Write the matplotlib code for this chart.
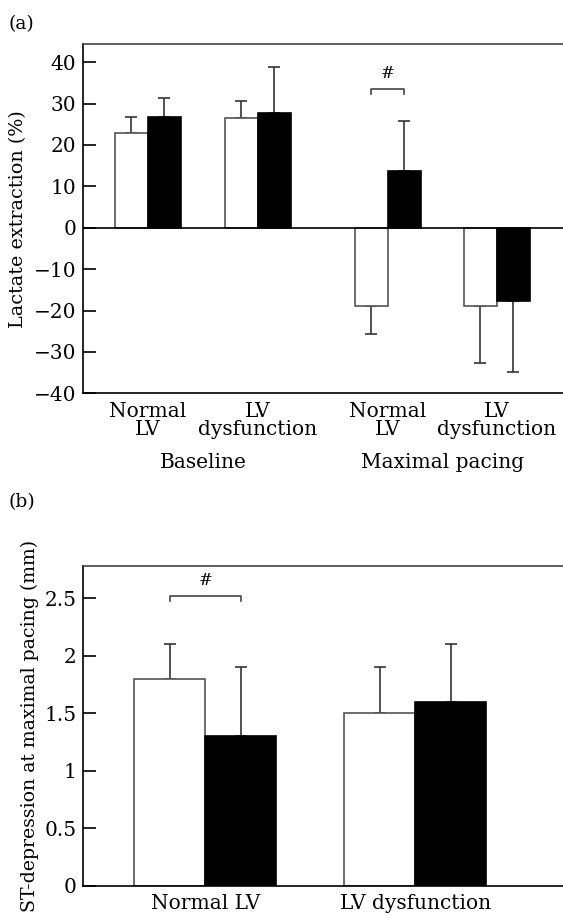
import numpy as np
import matplotlib
matplotlib.use("Agg")
from matplotlib import pyplot as plt
from matplotlib import transforms

plt.rcParams['font.family'] = ['DejaVu Serif']

# Panel (a): lactate extraction
labels_a = ["Normal\nLV", "LV\ndysfunction", "Normal\nLV", "LV\ndysfunction"]
phases_a = ["Baseline", "Maximal pacing"]
pos_a = [0, 1, 2.18, 3.17]
white_a = [22.8, 26.6, -18.8, -18.8]
white_err_a = [3.9, 4.1, 6.8, 13.8]
black_a = [26.7, 27.8, 13.8, -17.7]
black_err_a = [4.7, 11.1, 12.1, 17.1]
sig_a = 33.6  # height of the '#' bracket

# Panel (b): ST-depression at maximal pacing
labels_b = ["Normal LV", "LV dysfunction"]
pos_b = [0, 1]
white_b = [1.8, 1.5]
white_err_b = [0.3, 0.4]
black_b = [1.3, 1.6]
black_err_b = [0.6, 0.5]
sig_b = 2.52

W, H = 563, 918
fig = plt.figure(figsize=(W / 100, H / 100), dpi=100)

def px_axes(left, top, right, bottom):
    return fig.add_axes([left / W, 1 - bottom / H, (right - left) / W, (bottom - top) / H])

def one_sided(vals, errs):
    lo = [e if v < 0 else 0 for v, e in zip(vals, errs)]
    hi = [e if v >= 0 else 0 for v, e in zip(vals, errs)]
    return [lo, hi]

def draw_bars(ax, pos, white, werr, black, berr, width):
    xw = np.array(pos) - width / 2
    xb = np.array(pos) + width / 2
    ax.bar(xw, white, width, color="white", edgecolor="#555555", linewidth=1.2, zorder=2)
    ax.bar(xb, black, width, color="black", edgecolor="black", linewidth=1.2, zorder=2)
    ax.errorbar(xw, white, yerr=one_sided(white, werr), fmt="none", ecolor="#333333",
                elinewidth=1.2, capsize=4.3, capthick=1.2, zorder=1)
    ax.errorbar(xb, black, yerr=one_sided(black, berr), fmt="none", ecolor="#333333",
                elinewidth=1.2, capsize=4.3, capthick=1.2, zorder=1)
    return xw, xb

def style(ax):
    for s in ["left", "bottom", "top"]:
        ax.spines[s].set_linewidth(1.2)
    ax.spines["top"].set_color("#444444")
    ax.spines["right"].set_visible(False)
    ax.tick_params(axis="y", direction="in", length=9.4, width=1.2, pad=5, labelsize=14.5)
    ax.tick_params(axis="x", length=0, pad=6, labelsize=14.5)

def bracket(ax, x0, x1, y, dy, txt_dy):
    ax.plot([x0, x0, x1, x1], [y - dy, y, y, y - dy], color="#444444", lw=1.2)
    ax.text((x0 + x1) / 2, y + txt_dy, "#", ha="center", va="center", fontsize=12)

# ---- (a)
ax1 = px_axes(83.3, 44, 620, 393.3)
w = 0.3
xw, xb = draw_bars(ax1, pos_a, white_a, white_err_a, black_a, black_err_a, w)
ax1.axhline(0, color="black", lw=1.2, zorder=3)
ax1.set_xlim(-0.588, (620 - 148) / 110)
ax1.set_ylim(-40, 44.4)
ax1.set_yticks(np.arange(-40, 41, 10))
ax1.set_yticklabels(["\u221240", "\u221230", "\u221220", "\u221210", "0", "10", "20", "30", "40"])
ax1.set_xticks(pos_a)
ax1.set_xticklabels(labels_a, linespacing=0.95)
ax1.set_ylabel("Lactate extraction (%)", fontsize=13.8, labelpad=5)
style(ax1)
bracket(ax1, xw[2], xb[2], sig_a, 1.2, 3.6)
trans = transforms.blended_transform_factory(ax1.transData, ax1.transAxes)
ax1.text((pos_a[0] + pos_a[1]) / 2, -0.197, phases_a[0], transform=trans,
         ha="center", va="center", fontsize=14.5)
ax1.text((pos_a[2] + pos_a[3]) / 2, -0.197, phases_a[1], transform=trans,
         ha="center", va="center", fontsize=14.5)
fig.text(8 / W, 1 - 24 / H, "(a)", ha="left", va="center", fontsize=13.5)

# ---- (b)
ax2 = px_axes(83.3, 566, 620, 885.7)
w = 0.338
xw, xb = draw_bars(ax2, pos_b, white_b, white_err_b, black_b, black_err_b, w)
ax2.set_xlim(-0.581, (620 - 205.4) / 210)
ax2.set_ylim(0, 2.78)
ax2.set_yticks([0, 0.5, 1, 1.5, 2, 2.5])
ax2.set_yticklabels(["0", "0.5", "1", "1.5", "2", "2.5"])
ax2.set_xticks(pos_b)
ax2.set_xticklabels(labels_b)
ax2.set_ylabel("ST-depression at maximal pacing (mm)", fontsize=13.6, labelpad=4)
style(ax2)
bracket(ax2, xw[0], xb[0], sig_b, 0.04, 0.13)
fig.text(8 / W, 1 - 502 / H, "(b)", ha="left", va="center", fontsize=13.5)

fig.savefig("out.png", dpi=100)
